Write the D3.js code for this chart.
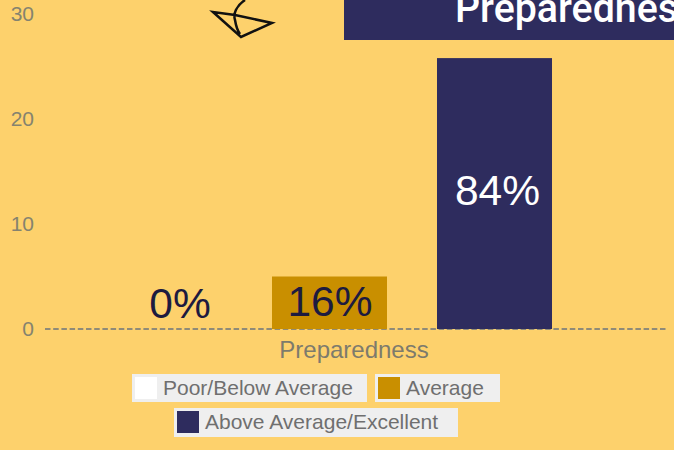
<html>
<head>
  <meta charset="utf-8" />
  <script src="https://cdnjs.cloudflare.com/ajax/libs/d3/7.8.5/d3.min.js"></script>
  <style>
    html, body { margin: 0; padding: 0; background: #fdd16c; overflow: hidden; }
    svg { display: block; font-family: "Liberation Sans", Arial, sans-serif; }
    path.domain { stroke: none; }
    .tick > line { stroke: none; }
    .tick > text { fill: #85836f; font-size: 21px; font-family: "Liberation Sans", Arial, sans-serif; }
  </style>
</head>
<body>
  <svg width="674" height="450"></svg>
  <script>
  // values
  const categories = ["Poor/Below Average", "Average", "Above Average/Excellent"];
  const counts = [0, 5, 25.8];
  const percentLabels = ["0%", "16%", "84%"];
  const labelBaselines = [318, 316, 205];
  const labelNudge = [15.5, 0.5, 3];
  const barColors = ["#ffffff", "#c98f00", "#2e2c5e"];
  const labelColors = ["#1d1b3f", "#1d1b3f", "#ffffff"];
  const yTicks = [0, 10, 20, 30];
  const xAxisTitle = "Preparedness";
  const chartTitle = "Preparedness";

  const svg = d3.select("svg");

  const xScale = d3.scaleBand().domain(categories).range([82, 577])
                   .paddingInner(0.303).paddingOuter(0.1515);
  const yScale = d3.scaleLinear().domain([0, 30]).range([329, 14]);

  // title banner, cut by the top and right edges like the source screenshot
  svg.append("rect").attr("x", 344).attr("y", 0).attr("width", 330).attr("height", 40)
     .attr("fill", "#2e2c5e");
  svg.append("text").attr("transform", "translate(455,22) scale(0.96,1)")
     .attr("fill", "#ffffff").attr("font-size", 41).attr("font-weight", 500)
     .attr("font-family", "Roboto, sans-serif")
     .text(chartTitle);

  // hand drawn mark next to the banner
  svg.append("path")
     .attr("d", "M213,12 L241,37 L272,23 L235,15 Z M245,0 C236,6 233,14 235,20 C236,26 237,30 240,34")
     .attr("fill", "none").attr("stroke", "#111111").attr("stroke-width", 2.5);

  // axes
  const yAxis = d3.axisLeft(yScale).tickValues(yTicks).tickSize(0).tickPadding(0);
  svg.append("g").attr("transform", "translate(34,0)").call(yAxis);

  svg.append("line")
     .attr("x1", 45).attr("x2", 666)
     .attr("y1", yScale(0)).attr("y2", yScale(0))
     .attr("stroke", "#8f8b78").attr("stroke-width", 2).attr("stroke-dasharray", "5.5 2.7");

  // bars
  svg.selectAll("rect.bar")
     .data(categories)
     .enter()
     .append("rect")
       .attr("class", "bar")
       .attr("x", d => xScale(d))
       .attr("width", xScale.bandwidth())
       .attr("y", (d, i) => yScale(counts[i]))
       .attr("height", (d, i) => yScale(0) - yScale(counts[i]))
       .attr("fill", (d, i) => barColors[i]);

  // values on the bars
  svg.selectAll("text.value")
     .data(categories)
     .enter()
     .append("text")
       .attr("class", "value")
       .attr("x", (d, i) => xScale(d) + xScale.bandwidth() / 2 + labelNudge[i])
       .attr("y", (d, i) => labelBaselines[i])
       .attr("text-anchor", "middle")
       .attr("font-size", 42.5)
       .attr("fill", (d, i) => labelColors[i])
       .text((d, i) => percentLabels[i]);

  svg.append("text")
     .attr("x", 354).attr("y", 358).attr("text-anchor", "middle")
     .attr("font-size", 24).attr("fill", "#7d7b6c")
     .text(xAxisTitle);

  // legend
  const legendBoxes = [[132, 374, 235, 28], [375, 374, 125, 28], [174, 408, 284, 29]];
  legendBoxes.forEach((box, i) => {
    const g = svg.append("g").attr("transform", `translate(${box[0]},${box[1]})`);
    g.append("rect").attr("width", box[2]).attr("height", box[3]).attr("fill", "#efefef");
    g.append("rect").attr("x", 3).attr("y", 3).attr("width", 22).attr("height", 22)
     .attr("fill", barColors[i]);
    g.append("text").attr("x", 31).attr("y", 21)
     .attr("font-size", 21).attr("fill", "#6f6f6f").text(categories[i]);
  });
  </script>
</body>
</html>
